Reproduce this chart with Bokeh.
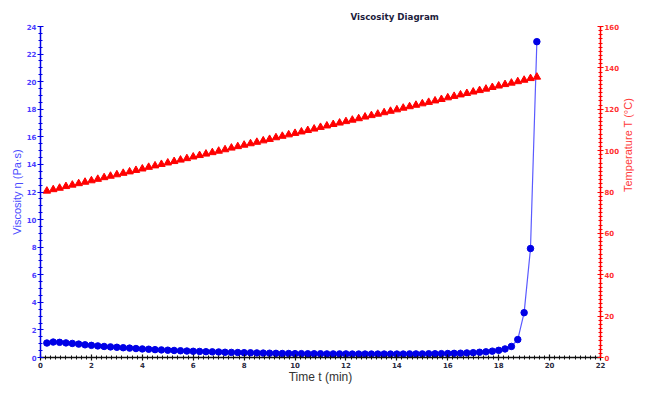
import math
from bokeh.plotting import figure
from bokeh.models import Range1d, LinearAxis, SingleIntervalTicker
from bokeh.embed import file_html
from bokeh.resources import INLINE

time_min = [0.25, 0.5, 0.75, 1.0, 1.25, 1.5, 1.75, 2.0, 2.25, 2.5, 2.75, 3.0, 3.25, 3.5, 3.75, 4.0,
            4.25, 4.5, 4.75, 5.0, 5.25, 5.5, 5.75, 6.0, 6.25, 6.5, 6.75, 7.0, 7.25, 7.5, 7.75, 8.0,
            8.25, 8.5, 8.75, 9.0, 9.25, 9.5, 9.75, 10.0, 10.25, 10.5, 10.75, 11.0, 11.25, 11.5, 11.75, 12.0,
            12.25, 12.5, 12.75, 13.0, 13.25, 13.5, 13.75, 14.0, 14.25, 14.5, 14.75, 15.0, 15.25, 15.5, 15.75, 16.0,
            16.25, 16.5, 16.75, 17.0, 17.25, 17.5, 17.75, 18.0, 18.25, 18.5, 18.75, 19.0, 19.25, 19.5]

viscosity = [1.05, 1.12, 1.10, 1.06, 1.02, 0.97, 0.92, 0.88, 0.84, 0.80, 0.77, 0.74, 0.71, 0.68, 0.65, 0.62,
             0.60, 0.57, 0.55, 0.53, 0.51, 0.49, 0.47, 0.45, 0.44, 0.42, 0.41, 0.40, 0.38, 0.37, 0.36, 0.35,
             0.34, 0.33, 0.32, 0.31, 0.30, 0.29, 0.29, 0.28, 0.28, 0.27, 0.27, 0.27, 0.26, 0.26, 0.26, 0.26,
             0.25, 0.25, 0.25, 0.25, 0.25, 0.25, 0.25, 0.25, 0.25, 0.26, 0.26, 0.26, 0.27, 0.27, 0.28, 0.29,
             0.30, 0.31, 0.33, 0.35, 0.38, 0.41, 0.46, 0.52, 0.62, 0.80, 1.30, 3.25, 7.90, 22.9]

temperature = [80.5, 81.2, 81.9, 82.7, 83.4, 84.1, 84.8, 85.5, 86.2, 87.0, 87.7, 88.4, 89.1, 89.8, 90.5, 91.2,
               92.0, 92.7, 93.4, 94.1, 94.8, 95.5, 96.2, 97.0, 97.7, 98.4, 99.1, 99.8, 100.5, 101.3, 102.0, 102.7,
               103.4, 104.1, 104.8, 105.5, 106.3, 107.0, 107.7, 108.4, 109.1, 109.8, 110.5, 111.3, 112.0, 112.7, 113.4, 114.1,
               114.8, 115.5, 116.3, 117.0, 117.7, 118.4, 119.1, 119.8, 120.6, 121.3, 122.0, 122.7, 123.4, 124.1, 124.8, 125.6,
               126.3, 127.0, 127.7, 128.4, 129.1, 129.8, 130.6, 131.3, 132.0, 132.7, 133.4, 134.1, 134.9, 135.6]

title_text = "Viscosity Diagram"
x_label = "Time t (min)"
left_label = "Viscosity η (Pa·s)"
right_label = "Temperature T (°C)"

p = figure(width=643, height=386, output_backend="svg", toolbar_location=None,
           x_range=Range1d(0, 22), y_range=Range1d(0, 24),
           min_border_left=40, min_border_right=0, min_border_top=26, min_border_bottom=0)
p.extra_y_ranges = {"temp": Range1d(0, 160)}
p.outline_line_color = None
p.xgrid.grid_line_color = None
p.ygrid.grid_line_color = None

p.title.text = title_text
p.title.text_font = "DejaVu Sans"
p.title.text_font_size = "8.7px"
p.title.text_font_style = "bold"
p.title.text_color = "#1c1c3c"
p.title.align = "left"
p.title.offset = 310
p.title.standoff = 10

BLUE = "#0000e6"
RED = "#ff0000"

def style_axis(ax, color, label_color, label_font_size="11px"):
    ax.axis_line_color = color
    ax.axis_line_width = 1.5
    ax.major_tick_line_color = color
    ax.minor_tick_line_color = color
    ax.major_tick_line_width = 1.2
    ax.minor_tick_line_width = 1
    ax.major_tick_in = 3
    ax.major_tick_out = 3
    ax.minor_tick_in = 2
    ax.minor_tick_out = 2
    ax.major_label_text_font = "DejaVu Sans"
    ax.major_label_text_font_size = "7px"
    ax.major_label_text_font_style = "bold"
    ax.major_label_text_color = label_color
    ax.major_label_standoff = 1
    ax.axis_label_text_font = "Liberation Sans"
    ax.axis_label_text_font_size = label_font_size
    ax.axis_label_text_font_style = "normal"
    ax.axis_label_standoff = 1

xa = p.xaxis[0]
xa.ticker = SingleIntervalTicker(interval=2, num_minor_ticks=10)
xa.axis_label = x_label
style_axis(xa, "#111111", "#2a2a40", "12px")
xa.axis_label_text_color = "#333333"
xa.axis_label_standoff = -1

ya = p.yaxis[0]
ya.ticker = SingleIntervalTicker(interval=2, num_minor_ticks=4)
ya.axis_label = left_label
style_axis(ya, BLUE, "#4a3cff")
ya.axis_label_text_color = "#4a4aff"

ra = LinearAxis(y_range_name="temp", axis_label=right_label,
                ticker=SingleIntervalTicker(interval=20, num_minor_ticks=10))
style_axis(ra, RED, "#ff3030")
ra.axis_label_text_color = "#ff3a3a"
ra.axis_label_orientation = math.pi / 2
ra.axis_label_standoff = 6
p.add_layout(ra, "right")

p.line(time_min, viscosity, line_color="#5a5aff", line_width=1.2)
p.scatter(time_min, viscosity, marker="circle", size=6.5, fill_color=BLUE, line_color=BLUE)
p.scatter(time_min, temperature, marker="triangle", size=7.5, fill_color=RED, line_color=RED,
          y_range_name="temp")

open("out.html", "w").write(file_html(p, INLINE))
